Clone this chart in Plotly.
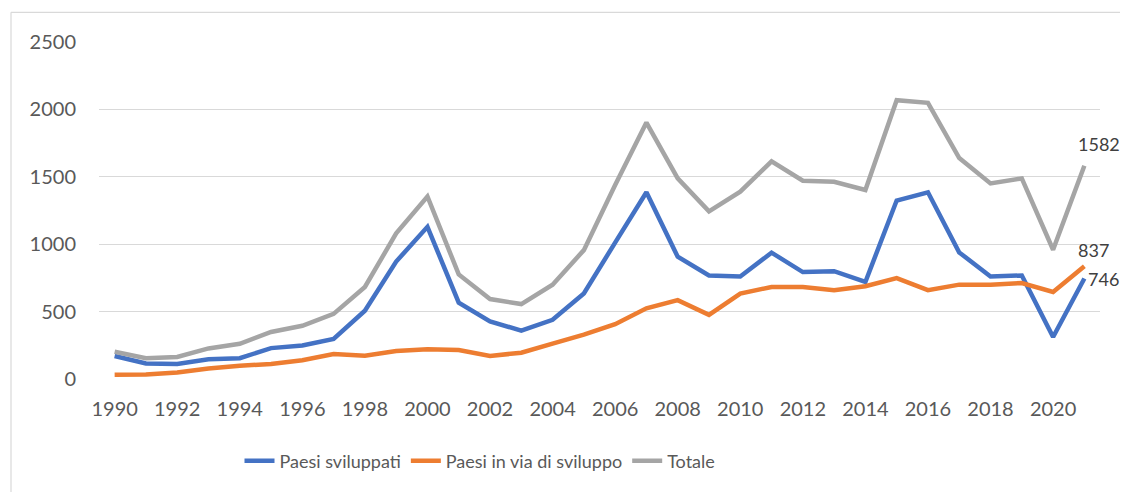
import plotly.graph_objects as go

years = list(range(1990, 2022))
paesi_sviluppati = [171, 115, 112, 146, 154, 229, 249, 298, 507, 871, 1129,
                    566, 427, 359, 439, 634, 1012, 1385, 907, 768, 760,
                    937, 793, 800, 720, 1324, 1385, 939, 761, 768, 312, 746]
paesi_in_via = [32, 34, 49, 78, 98, 112, 139, 185, 173, 207, 220,
                215, 171, 195, 263, 329, 407, 524, 585, 476, 634,
                683, 683, 659, 688, 749, 659, 700, 700, 712, 646, 837]
totale = [202, 154, 163, 227, 261, 349, 395, 483, 683, 1080, 1354,
          776, 593, 556, 700, 956, 1439, 1902, 1488, 1244, 1390,
          1615, 1471, 1463, 1402, 2068, 2049, 1639, 1451, 1488, 959, 1582]
series_names = ["Paesi sviluppati", "Paesi in via di sviluppo", "Totale"]
series_colors = ["#4472C4", "#ED7D31", "#A5A5A5"]
x_ticks = list(range(1990, 2021, 2))
y_ticks = [0, 500, 1000, 1500, 2000, 2500]

# the page body adds an 8 px margin on every side; keep the figure inside the window
OFF = 8
W, H = 1128 - 2 * OFF, 500 - 2 * OFF
L = 99 - OFF
R = W - (1100 - OFF)
T = 42 - OFF
B = H - (383 - OFF)
pw, ph = W - L - R, H - T - B

def px_x(p):
    return (p - OFF - L) / pw

def px_y(p):
    return (H - B - (p - OFF)) / ph

fig = go.Figure()
for name, vals, col in zip(series_names, [paesi_sviluppati, paesi_in_via, totale], series_colors):
    fig.add_trace(go.Scatter(x=years, y=vals, mode="lines", name=name,
                             line=dict(color=col, width=4.5), cliponaxis=False))

label_font = dict(family="Lato, Carlito, sans-serif", size=18, color="#404040")
fig.add_annotation(x=years[-1], y=totale[-1], text=str(totale[-1]), showarrow=False,
                   xanchor="left", yanchor="middle", xshift=-8, yshift=22, font=label_font)
fig.add_annotation(x=years[-1], y=paesi_in_via[-1], text=str(paesi_in_via[-1]), showarrow=False,
                   xanchor="left", yanchor="middle", xshift=-8, yshift=16, font=label_font)
fig.add_annotation(x=years[-1], y=paesi_sviluppati[-1], text=str(paesi_sviluppati[-1]), showarrow=False,
                   xanchor="left", yanchor="middle", xshift=2, yshift=-1, font=label_font)

# outer chart-area frame (only its top and left edges fall inside the picture)
frame = dict(color="#D9D9D9", width=1.2)
fig.add_shape(type="line", xref="paper", yref="paper",
              x0=px_x(11), x1=px_x(1200), y0=px_y(12), y1=px_y(12), line=frame, layer="below")
fig.add_shape(type="line", xref="paper", yref="paper",
              x0=px_x(11), x1=px_x(11), y0=px_y(12), y1=px_y(560), line=frame, layer="below")

fig.update_layout(
    width=W, height=H,
    margin=dict(l=L, r=R, t=T, b=B, pad=0),
    paper_bgcolor="white", plot_bgcolor="white",
    font=dict(family="Lato, Carlito, sans-serif", color="#595959", size=20),
    showlegend=True,
    legend=dict(orientation="h", x=px_x(480), xanchor="center", y=px_y(466), yanchor="middle",
                font=dict(size=18, color="#595959"), itemwidth=30, bgcolor="rgba(0,0,0,0)"),
    xaxis=dict(range=[1989.5, 2021.5], tickvals=x_ticks, showgrid=False, zeroline=False,
               showline=False, ticks="", ticklabelstandoff=16, tickfont=dict(size=20)),
    yaxis=dict(range=[0, 2500], tickvals=y_ticks, showgrid=True, gridcolor="#D9D9D9",
               gridwidth=1.3, zeroline=False, showline=False, ticks="",
               ticklabelstandoff=22, tickfont=dict(size=20)),
)

fig.write_html("out.html")
